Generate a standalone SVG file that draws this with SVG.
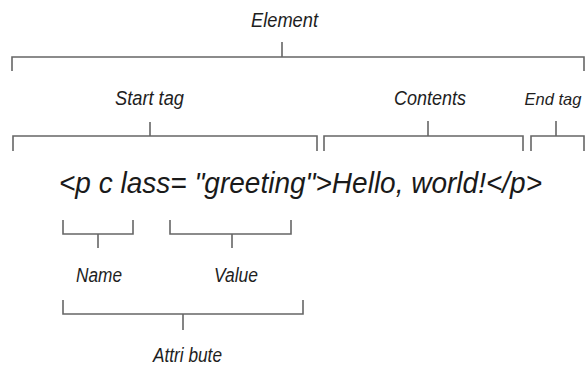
<svg xmlns="http://www.w3.org/2000/svg" width="586" height="366" viewBox="0 0 586 366">
<style>
.lbl{font-family:"Liberation Sans",Arial,sans-serif;font-style:italic;font-size:20px;fill:#1e1e1e;text-anchor:middle}
.code{font-family:"Liberation Sans",Arial,sans-serif;font-style:italic;font-size:29px;fill:#1a1a1a}
.br{fill:none;stroke:#666;stroke-width:1.6}
</style>
<rect width="586" height="366" fill="#fff"/>
<g id="connectors">
<path class="br" d="M12,71V57H584V71M282,42V57"/>
<path class="br" d="M13,151V136H317V151M150,122V136"/>
<path class="br" d="M324,151V136H523V151M428,121V136"/>
<path class="br" d="M531,151V136H584V151M556,121V136"/>
<path class="br" d="M63,220V234H133V220M98,234V248"/>
<path class="br" d="M170,220V234H291V220M232,234V248"/>
<path class="br" d="M63,300V314H303V300M183,314V330"/>
</g>
<g id="element"><text class="lbl" x="284.5" y="27" textLength="67" lengthAdjust="spacingAndGlyphs">Element</text></g>
<g id="start-tag"><text class="lbl" x="149.5" y="105" textLength="69" lengthAdjust="spacingAndGlyphs">Start tag</text></g>
<g id="contents"><text class="lbl" x="430" y="105" textLength="72" lengthAdjust="spacingAndGlyphs">Contents</text></g>
<g id="end-tag"><text class="lbl" x="553" y="105" style="font-size:16.5px">End tag</text></g>
<g id="code"><text class="code" x="59" y="193" textLength="483" lengthAdjust="spacingAndGlyphs">&lt;p c lass= "greeting"&gt;Hello, world!&lt;/p&gt;</text></g>
<g id="name"><text class="lbl" x="99" y="282" textLength="46" lengthAdjust="spacingAndGlyphs">Name</text></g>
<g id="value"><text class="lbl" x="236" y="282" textLength="44" lengthAdjust="spacingAndGlyphs">Value</text></g>
<g id="attribute"><text class="lbl" x="187.5" y="362" textLength="69" lengthAdjust="spacingAndGlyphs">Attri bute</text></g>
</svg>
